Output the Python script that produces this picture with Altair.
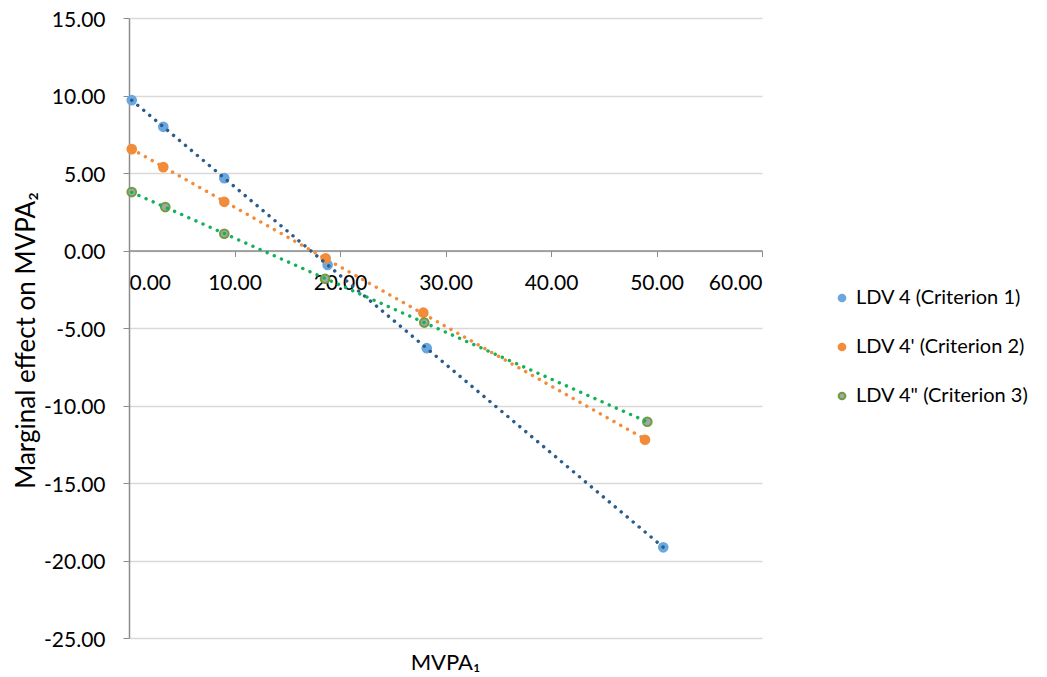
import altair as alt
import pandas as pd

series_names = ["LDV 4 (Criterion 1)", "LDV 4' (Criterion 2)", 'LDV 4" (Criterion 3)']

blue_x = [0.26, 3.25, 9.03, 18.83, 28.22, 50.64]
blue_y = [9.70, 7.98, 4.67, -0.93, -6.30, -19.15]
orange_x = [0.26, 3.25, 9.03, 18.64, 27.90, 48.91]
orange_y = [6.54, 5.38, 3.14, -0.50, -4.01, -12.21]
green_x = [0.26, 3.44, 9.03, 18.58, 27.99, 49.13]
green_y = [3.77, 2.80, 1.08, -1.82, -4.65, -11.05]

x_ticks = [0, 10, 20, 30, 40, 50, 60]
y_ticks = [-25, -20, -15, -10, -5, 0, 5, 10, 15]

marker_fill = ["#6AA7DE", "#F28C3A", "#A6A6A6"]
marker_stroke = ["#6AA7DE", "#F28C3A", "#6E9E3E"]
trend_colors = ["#2A5D8C", "#F28C3A", "#13B25A"]

rows = []
for name, xs, ys in zip(series_names, [blue_x, orange_x, green_x], [blue_y, orange_y, green_y]):
    for xv, yv in zip(xs, ys):
        rows.append({"series": name, "x": xv, "y": yv})
df = pd.DataFrame(rows)

W, H = 633, 620
FONT = "Lato"
LABEL_EXPR = "replace(format(datum.value, '.2f'), '\u2212', '-')"

xscale = alt.Scale(domain=[0, 60], nice=False, zero=False)
yscale = alt.Scale(domain=[-25, 15], nice=False, zero=False)

x_enc = alt.X(
    "x:Q", scale=xscale, title=None,
    axis=alt.Axis(values=x_ticks, labelExpr=LABEL_EXPR, grid=False, offset=-H * 25 / 40,
                  domainColor="#8C8C8C", tickColor="#8C8C8C", tickSize=6, domainWidth=1.5,
                  labelPadding=16, labelFontSize=21, labelColor="#000000", labelFont=FONT),
)
y_enc = alt.Y(
    "y:Q", scale=yscale, title="Marginal effect on MVPA₂",
    axis=alt.Axis(values=y_ticks, labelExpr=LABEL_EXPR, grid=True, gridColor="#D9D9D9",
                  gridWidth=1.5, domainWidth=1.5,
                  domainColor="#8C8C8C", tickColor="#8C8C8C", tickSize=6,
                  labelPadding=18, labelFontSize=21, labelColor="#000000", labelFont=FONT,
                  labelOffset=2,
                  titleFontSize=26, titleFont=FONT, titleColor="#000000",
                  titleFontWeight="normal", titleX=-90, titleY=322),
)

points = alt.Chart(df).mark_point(filled=False, size=75, strokeWidth=2, opacity=1).encode(
    x=x_enc,
    y=y_enc,
    fill=alt.Fill("series:N", scale=alt.Scale(domain=series_names, range=marker_fill),
                  legend=alt.Legend(title=None)),
    stroke=alt.Stroke("series:N", scale=alt.Scale(domain=series_names, range=marker_stroke),
                      legend=alt.Legend(title=None)),
    shape=alt.value("circle"),
)

trend = alt.Chart(df).transform_regression(
    "x", "y", groupby=["series"]
).mark_line(strokeWidth=3.4, strokeDash=[0.1, 7.7], strokeCap="round").encode(
    x=alt.X("x:Q", scale=xscale),
    y=alt.Y("y:Q", scale=yscale),
    color=alt.Color("series:N", scale=alt.Scale(domain=series_names, range=trend_colors), legend=None),
)

chart = alt.layer(points, trend).properties(
    width=W, height=H,
    title=alt.TitleParams("MVPA₁", orient="bottom", anchor="middle", fontSize=22,
                          font=FONT, fontWeight="normal", color="#000000", offset=3),
    autosize=alt.AutoSizeParams(type="none"),
    padding={"left": 121, "top": 10, "right": 277, "bottom": 44},
).configure_view(stroke=None).configure_legend(
    orient="none", legendX=703, legendY=270, labelFontSize=20, labelFont=FONT,
    labelColor="#000000", symbolSize=45, symbolStrokeWidth=2, rowPadding=29, padding=0,
    labelOffset=4, labelLimit=400,
)

chart.save("out.html", embed_options={"renderer": "svg", "actions": False})
